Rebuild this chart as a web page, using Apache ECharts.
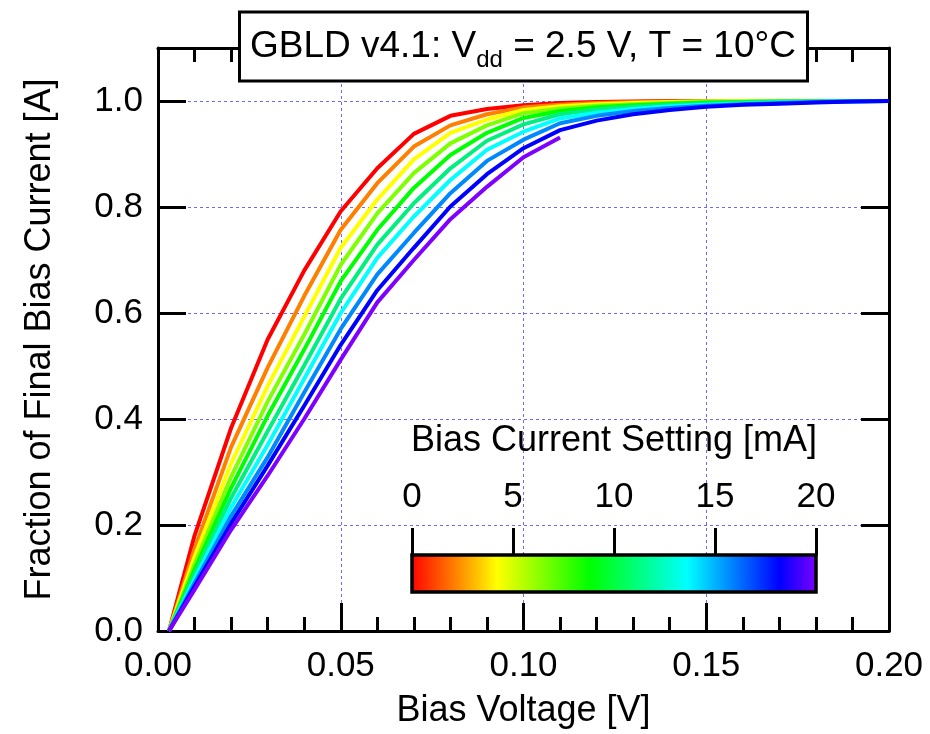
<!DOCTYPE html>
<html>
<head>
<meta charset="utf-8">
<script src="https://cdn.jsdelivr.net/npm/echarts@6/dist/echarts.min.js"></script>
<style>html,body{margin:0;padding:0;background:#fff}#chart{width:930px;height:734px}</style>
</head>
<body>
<div id="chart"></div>
<script>
// Bias voltage [V] at which each point was measured
var biasVoltage = [0.003, 0.01, 0.02, 0.03, 0.04, 0.05, 0.06, 0.07, 0.08, 0.09, 0.10,
                   0.11, 0.12, 0.13, 0.14, 0.15, 0.16, 0.17, 0.18, 0.19, 0.20];
// Bias current settings [mA] (one curve each)
var settings = [0, 2.2, 4.4, 6.7, 8.9, 11.1, 13.3, 15.6, 17.8, 20];
var curveColors = ['#ff0000', '#ff8000', '#ffff00', '#80ff00', '#00ff00',
                   '#00f080', '#00ffff', '#0088ff', '#0000ff', '#8000ff'];
// Fraction of final bias current
var frac0  = [0, 0.180, 0.383, 0.550, 0.680, 0.792, 0.873, 0.938, 0.972, 0.985, 0.992, 0.996, 0.998, 0.999, 1, 1, 1, 1, 1, 1, 1];
var frac1  = [0, 0.155, 0.347, 0.497, 0.632, 0.757, 0.845, 0.914, 0.954, 0.975, 0.988, 0.993, 0.996, 0.998, 0.999, 1, 1, 1, 1, 1, 1];
var frac2  = [0, 0.140, 0.316, 0.462, 0.593, 0.723, 0.814, 0.890, 0.940, 0.965, 0.983, 0.990, 0.994, 0.996, 0.998, 0.999, 1, 1, 1, 1, 1];
var frac3  = [0, 0.126, 0.291, 0.433, 0.559, 0.691, 0.788, 0.864, 0.920, 0.954, 0.977, 0.986, 0.991, 0.994, 0.996, 0.998, 0.999, 1, 1, 1, 1];
var frac4  = [0, 0.116, 0.270, 0.406, 0.531, 0.660, 0.757, 0.836, 0.898, 0.940, 0.968, 0.981, 0.988, 0.992, 0.995, 0.997, 0.998, 0.999, 0.999, 1, 1];
var frac5  = [0, 0.107, 0.251, 0.377, 0.501, 0.627, 0.729, 0.807, 0.873, 0.925, 0.956, 0.975, 0.984, 0.989, 0.993, 0.995, 0.997, 0.998, 0.999, 1, 1];
var frac6  = [0, 0.098, 0.233, 0.351, 0.476, 0.600, 0.704, 0.782, 0.851, 0.908, 0.942, 0.967, 0.978, 0.985, 0.990, 0.993, 0.995, 0.997, 0.998, 0.999, 1];
var frac7  = [0, 0.090, 0.217, 0.328, 0.450, 0.570, 0.673, 0.751, 0.826, 0.887, 0.927, 0.958, 0.972, 0.981, 0.987, 0.991, 0.994, 0.996, 0.998, 0.999, 1];
var frac8  = [0, 0.084, 0.203, 0.312, 0.425, 0.540, 0.643, 0.723, 0.801, 0.862, 0.911, 0.945, 0.963, 0.975, 0.983, 0.989, 0.993, 0.995, 0.997, 0.999, 1];
var frac9  = [0, 0.078, 0.191, 0.293, 0.400, 0.512, 0.620, 0.700, 0.777, 0.838, 0.894, 0.931];
var fractions = [frac0, frac1, frac2, frac3, frac4, frac5, frac6, frac7, frac8, frac9];
// Colour scale
var scaleTicks = [0, 5, 10, 15, 20];
var scaleStops = [[0, '#ff0000'], [0.11, '#ff8000'], [0.213, '#ffff00'], [0.44, '#00ff00'],
                  [0.68, '#00ffff'], [0.907, '#0000ff'], [1, '#8000ff']];

var FONT = 'Liberation Sans';
var chart = echarts.init(document.getElementById('chart'), null, {renderer: 'canvas'});

var series = fractions.map(function (arr, i) {
  return {
    name: settings[i] + ' mA',
    type: 'line',
    xAxisIndex: 0, yAxisIndex: 0,
    data: arr.map(function (v, j) { return [biasVoltage[j], v]; }),
    showSymbol: false,
    symbol: 'none',
    lineStyle: {color: curveColors[i], width: 4},
    itemStyle: {color: curveColors[i]},
    animation: false,
    silent: true
  };
});

var gradient = new echarts.graphic.LinearGradient(0, 0, 1, 0, scaleStops.map(function (s) {
  return {offset: s[0], color: s[1]};
}));

series.push({
  type: 'custom',
  xAxisIndex: 2, yAxisIndex: 2,
  z: 20,
  animation: false,
  silent: true,
  data: [[scaleTicks[0], scaleTicks[scaleTicks.length - 1]]],
  renderItem: function (params, api) {
    var p0 = api.coord([api.value(0), 1]);
    var p1 = api.coord([api.value(1), 0]);
    return {
      type: 'rect',
      shape: {x: p0[0], y: p0[1], width: p1[0] - p0[0], height: p1[1] - p0[1]},
      style: {fill: gradient, stroke: '#000', lineWidth: 3.5}
    };
  }
});

var tickLbl = {fontFamily: FONT, fontSize: 35, color: '#000'};
var gridLine = {show: true, lineStyle: {color: '#6a6aff', width: 1, type: [3, 3]}};

var option = {
  backgroundColor: '#fff',
  animation: false,
  grid: [
    {left: 158, right: 41, top: 48, bottom: 102},
    {left: 412, right: 114, top: 555, height: 37}
  ],
  xAxis: [
    {
      gridIndex: 0, type: 'value', min: 0, max: 0.2, interval: 0.05, position: 'bottom',
      name: 'Bias Voltage [V]', nameLocation: 'middle', nameGap: 62,
      nameTextStyle: {fontFamily: FONT, fontSize: 36, color: '#000'},
      axisLine: {show: true, onZero: false, lineStyle: {color: '#000', width: 3}},
      axisTick: {show: true, inside: true, length: 28, lineStyle: {color: '#000', width: 3}},
      minorTick: {show: true, splitNumber: 5, length: 14, lineStyle: {color: '#000', width: 3}},
      axisLabel: Object.assign({margin: 18, formatter: function (v) { return v.toFixed(2); }}, tickLbl),
      splitLine: gridLine
    },
    {
      gridIndex: 0, type: 'value', min: 0, max: 0.2, interval: 0.05, position: 'top',
      axisLine: {show: true, onZero: false, lineStyle: {color: '#000', width: 3}},
      axisTick: {show: true, inside: true, length: 28, lineStyle: {color: '#000', width: 3}},
      minorTick: {show: true, splitNumber: 5, length: 14, lineStyle: {color: '#000', width: 3}},
      axisLabel: {show: false},
      splitLine: {show: false}
    },
    {
      gridIndex: 1, type: 'value', min: 0, max: 20, interval: 5, position: 'top',
      name: 'Bias Current Setting [mA]', nameLocation: 'middle', nameGap: 96,
      nameTextStyle: {fontFamily: FONT, fontSize: 36, color: '#000'},
      axisLine: {show: true, onZero: false, lineStyle: {color: '#000', width: 3}},
      axisTick: {show: true, inside: false, length: 27, lineStyle: {color: '#000', width: 3}},
      axisLabel: Object.assign({margin: 40}, tickLbl),
      splitLine: {show: false}
    }
  ],
  yAxis: [
    {
      gridIndex: 0, type: 'value', min: 0, max: 1.1, interval: 0.2, position: 'left',
      name: 'Fraction of Final Bias Current [A]', nameLocation: 'middle', nameGap: 100,
      nameTextStyle: {fontFamily: FONT, fontSize: 36, color: '#000'},
      axisLine: {show: true, onZero: false, lineStyle: {color: '#000', width: 3}},
      axisTick: {show: true, inside: true, length: 28, lineStyle: {color: '#000', width: 3}},
      axisLabel: Object.assign({margin: 15, showMaxLabel: false, formatter: function (v) {
        return v > 1.05 ? '' : v.toFixed(1);
      }}, tickLbl),
      splitLine: gridLine
    },
    {
      gridIndex: 0, type: 'value', min: 0, max: 1.1, interval: 0.2, position: 'right',
      axisLine: {show: true, onZero: false, lineStyle: {color: '#000', width: 3}},
      axisTick: {show: true, inside: true, length: 28, lineStyle: {color: '#000', width: 3}},
      axisLabel: {show: false},
      splitLine: {show: false}
    },
    {gridIndex: 1, type: 'value', min: 0, max: 1, show: false}
  ],
  graphic: [
    {
      type: 'rect', z: 100, silent: true,
      shape: {x: 239.5, y: 12, width: 568, height: 69},
      style: {fill: '#fff', stroke: '#000', lineWidth: 3}
    },
    {
      type: 'text', z: 101, silent: true,
      x: 523, y: 47,
      style: {
        text: '{a|GBLD v4.1: V}{s|dd}{a| = 2.5 V, T = 10°C}',
        align: 'center', verticalAlign: 'middle',
        fill: '#000',
        rich: {
          a: {fontFamily: FONT, fontSize: 37, lineHeight: 40, fill: '#000', verticalAlign: 'middle'},
          s: {fontFamily: FONT, fontSize: 24, lineHeight: 24, padding: [27, 0, 0, 0], fill: '#000', verticalAlign: 'middle'}
        }
      }
    }
  ],
  series: series
};
chart.setOption(option);
</script>
</body>
</html>
